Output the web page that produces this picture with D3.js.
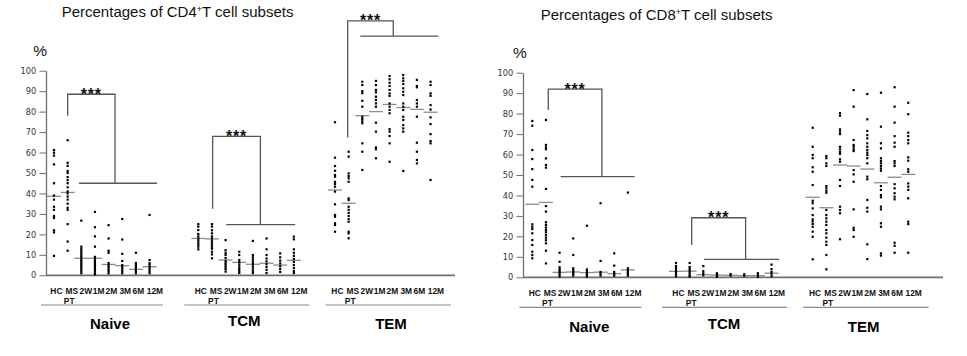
<!DOCTYPE html>
<html><head><meta charset="utf-8">
<script src="https://cdn.jsdelivr.net/npm/d3@7"></script>
<style>
html,body{margin:0;padding:0;background:#fff;}
svg{display:block;}
</style></head>
<body>
<svg id="chart" width="967" height="356"></svg>
<script>
// ---------- DATA ----------
const groups = ["Naive", "TCM", "TEM"];
const timepoints = ["HC", "MS", "2W", "1M", "2M", "3M", "6M", "12M"];
const timepointLabels = ["HC", "MS", "2W", "1M", "2M", "3M", "6M", "12M"];
const subLabel = "PT";
const yTicks = [0, 10, 20, 30, 40, 50, 60, 70, 80, 90, 100];

// CD4+ panel
const cd4Naive = [
  [61.2, 59.9, 58.5, 54.2, 45, 39, 37, 33.5, 32, 29, 28, 22, 21, 9.5],
  [66, 55, 53.5, 51, 50, 48, 46.5, 45, 43, 41, 40, 38.5, 37, 35, 33, 32, 25, 16.5, 12],
  [26.7, 14, 13, 12, 11, 10, 9, 8, 7, 6, 5, 4, 3, 2, 1],
  [31, 23.5, 19, 14, 9, 8, 7, 6, 5, 4, 3, 2, 1, 0.5],
  [24.5, 18, 12, 11, 6, 5, 4, 3, 2, 1],
  [27.5, 17.5, 10.5, 7, 5, 4, 3, 2, 1],
  [11, 6, 5, 4, 3, 2, 1],
  [29.5, 7.5, 6, 5, 4, 3, 2, 1]
];
const cd4NaiveMed = [38.6, 40.5, 8.3, 8.3, 5.3, 4.7, 2.9, 4.2];

const cd4TCM = [
  [25, 23.8, 22.1, 20.2, 19, 18, 17, 16, 15, 14, 12.7],
  [25, 23.8, 22, 20.5, 19, 18, 17, 16, 15, 14, 13, 11.5, 10.2, 8.3],
  [17.2, 12.3, 11, 10, 8.5, 7, 6, 5, 4, 3, 1.8],
  [11.5, 9.9, 7.5, 6.4, 5.3, 4.2, 3.1, 2.1, 1.1],
  [16.8, 9.9, 8.8, 7.7, 6.6, 5.5, 4.4, 3.3, 2.2, 1.1],
  [18, 12.7, 9.9, 8.2, 6.8, 5.4, 4, 2.6, 1.1],
  [10.7, 8.8, 7.2, 5.8, 4.4, 3, 1.6],
  [18.9, 17.6, 12.7, 11, 9.5, 8, 6.5, 5, 3.5, 2, 1.1]
];
const cd4TCMMed = [18, 17.8, 7.5, 6.3, 5.4, 5.9, 5, 7.3];

const cd4TEM = [
  [74.8, 57.5, 53.4, 51.1, 49, 48.2, 45.7, 44.6, 43.3, 40.9, 34.7, 29.5, 28.6, 25.4, 24.6, 21.3],
  [60.4, 58, 49.8, 48.5, 47.4, 45.7, 37.6, 36.8, 33.5, 32, 30.5, 29, 27.5, 26.2, 21.3, 20.5, 18.1],
  [94.6, 93, 90, 89, 85.3, 82.4, 77.5, 76.4, 75.3, 74.3, 64.5, 60.4, 51.5],
  [95, 93, 90.6, 89.4, 87.3, 85.7, 84, 82.4, 74.6, 70.2, 62.5, 61.6, 57.2],
  [97.4, 95.8, 94.1, 92.5, 90.6, 88.9, 87.7, 84, 82.4, 80.8, 79.2, 71.4, 70.2, 68.1, 64.5, 55.5],
  [97.9, 96.3, 95, 93.5, 91.4, 89.7, 88.1, 84, 82.4, 80.8, 77.5, 75.9, 73.4, 71.8, 70.2, 51],
  [95.5, 92.5, 91.9, 85.7, 84, 82.4, 77.5, 64.8, 60.4, 56.4, 54.7],
  [94.6, 93, 88.9, 87.7, 83.2, 81, 77.2, 73.9, 69, 65.6, 64.5, 46.6]
];
const cd4TEMMed = [41.7, 35.2, 78, 80, 83.5, 82, 81.1, 79.7];

const cd4Brackets = [
  { group: "Naive", from: 1.0, fromVal: 78, top: 88.5, to: 4.47, toVal: 45, lineFrom: 1.83, lineTo: 7.55 },
  { group: "TCM", from: 1.05, fromVal: 32.5, top: 67.9, to: 4.55, toVal: 24.8, lineFrom: 2.05, lineTo: 7.1 },
  { group: "TEM", from: 0.93, fromVal: 67.4, top: 124.4, to: 4.27, toVal: 116.9, lineFrom: 1.85, lineTo: 7.57 }
];

// CD8+ panel
const cd8Naive = [
  [76.4, 74.1, 62.2, 57.8, 52.9, 47.6, 44.3, 25.9, 24.7, 23.6, 21.5, 18.2, 15.8, 12.5, 10.9, 9.3],
  [76.9, 64.7, 63.5, 62.6, 58.1, 54.9, 53.6, 43.2, 34.8, 32.1, 26.9, 25.6, 24.3, 23.1, 22, 20.7, 19.4, 18.1, 16.6, 13, 6.8],
  [12, 7.6, 4.9, 4, 3.1, 2.2, 1.3, 0.4],
  [19, 10.9, 4.4, 3.5, 2.6, 1.7, 0.8],
  [25.2, 3.8, 2.9, 2, 1.1, 0.3],
  [36.2, 8, 2.6, 1.7, 0.8],
  [11.7, 5.7, 2.6, 1.7, 0.8],
  [41.4, 4.4, 3.5, 2.6, 1.7, 0.8]
];
const cd8NaiveMed = [35.7, 36.6, 2.4, 2.6, 2.3, 2.5, 1.8, 3.6];

const cd8TCM = [
  [7, 5.5, 4.5, 3.5, 2.5, 1.5, 0.5],
  [7, 5, 4, 3, 2, 1, 0.4],
  [5.5, 3, 2, 1],
  [2, 1.1, 0.3],
  [1.6, 0.8],
  [1.5, 0.7],
  [2, 1.1, 0.3],
  [6.2, 4, 2.6, 1.6, 0.5]
];
const cd8TCMMed = [2.9, 3, 1.3, 1.1, 1, 0.8, 0.8, 2];

const cd8TEM = [
  [73.1, 63.8, 59.8, 58.2, 53.8, 51.6, 45.1, 37.4, 36.2, 33.7, 30.4, 28.3, 27.3, 26.1, 24.7, 22.3, 19.8, 8.8],
  [59.3, 58.2, 55.7, 54.4, 44.6, 43.5, 42.3, 41.3, 32.9, 30.4, 28.8, 27.2, 25.6, 23.1, 21.5, 19.4, 17.4, 15.8, 10.9, 3.9],
  [80.2, 79, 72.3, 71.2, 70, 63.8, 62.5, 61.3, 60.3, 57.7, 56.5, 47.6, 44.6, 34.5, 32.9, 31.3, 18.6],
  [91.5, 83.4, 67.1, 64.7, 63.8, 62.6, 61.7, 52.4, 50.3, 46.7, 33.2, 24.2, 23.1, 19.8],
  [89.6, 77.2, 71.5, 69.5, 67.9, 65.5, 63.8, 62.2, 60.9, 59.8, 58.2, 55.7, 49.2, 47.9, 37.8, 34, 32.1, 16.1, 8.9],
  [90.2, 73.6, 65.5, 63, 58.2, 56.9, 55.7, 54.4, 53.2, 52.1, 44.6, 42.7, 40.2, 39.1, 34.5, 33.2, 26.4, 24.7, 11.7, 10.6],
  [92.9, 83.4, 75.6, 69, 65.8, 63.8, 56.8, 55.7, 54.4, 45.5, 43.5, 41.1, 39.4, 38.1, 16.9, 15.4, 12],
  [85.3, 79.7, 70.7, 69, 67.1, 65.5, 58.6, 57, 52.8, 51.6, 45.9, 44.3, 42.7, 38.6, 27.2, 26, 12]
];
const cd8TEMMed = [39.1, 34, 54.9, 54.4, 52.9, 46.2, 48.9, 50.3];

const cd8Brackets = [
  { group: "Naive", from: 1.17, fromVal: 81.8, top: 92, to: 5.1, toVal: 49.2, lineFrom: 2.07, lineTo: 7.5 },
  { group: "TCM", from: 1.15, fromVal: 15.8, top: 29.1, to: 5.1, toVal: 8.8, lineFrom: 2.05, lineTo: 7.55 }
];

// ---------- LAYOUT ----------
const panels = [
  {
    cell: "CD4", titleX: 61.7, titleBase: 17.3,
    axisX: 46, y0: 275.3, y100: 70.7, xEnd: 455,
    groupOffsets: [8, 152.3, 289], groupLabelOff: [56, 46, 56], groupBase: [329, 326, 329],
    pctX: 33.3, pctBase: 56, catBase: 293.5, ptBase: 303.5, ulY: 305,
    data: [cd4Naive, cd4TCM, cd4TEM], medians: [cd4NaiveMed, cd4TCMMed, cd4TEMMed],
    brackets: cd4Brackets
  },
  {
    cell: "CD8", titleX: 540.7, titleBase: 20,
    axisX: 523, y0: 277.3, y100: 72.7, xEnd: 943,
    groupOffsets: [9.3, 153, 289.7], groupLabelOff: [57, 48, 51], groupBase: [331.7, 329.3, 331.7],
    pctX: 513, pctBase: 58.3, catBase: 295.5, ptBase: 306, ulY: 307.3,
    data: [cd8Naive, cd8TCM, cd8TEM], medians: [cd8NaiveMed, cd8TCMMed, cd8TEMMed],
    brackets: cd8Brackets
  }
];
const step = 13.65;
const underlineOff = [[-13, 109], [-14, 111], [-9.5, 116]];
const labelShift = [2.4, 4.1, 4.6, 3.6, 2.8, 3.0, 2.5, 5.4];

const svg = d3.select("#chart");
const AX = "#6e6e6e";

panels.forEach(p => {
  const g = svg.append("g");
  const y = d3.scaleLinear().domain([0, 100]).range([p.y0, p.y100]);
  const xGroup = d3.scaleOrdinal().domain(groups).range(p.groupOffsets.map(o => p.axisX + o));
  const xTp = d3.scalePoint().domain(timepoints).range([0, step * 7]);
  const xIdx = d3.scaleLinear().domain([0, 7]).range([0, step * 7]);

  // title
  const t = g.append("text")
    .attr("x", p.titleX).attr("y", p.titleBase)
    .attr("font-family", "Liberation Sans, Arial, sans-serif")
    .attr("font-size", 15).attr("fill", "#111");
  t.append("tspan").text("Percentages of " + p.cell);
  t.append("tspan").attr("font-size", 9).attr("dy", -5.5).text("+");
  t.append("tspan").attr("dy", 5.5).text("T cell subsets");

  // %
  g.append("text").attr("x", p.pctX).attr("y", p.pctBase)
    .attr("font-family", "Liberation Sans, Arial, sans-serif")
    .attr("font-size", 15.5).attr("fill", "#111").text("%");

  // y axis
  const yAxis = d3.axisLeft(y).tickValues(yTicks).tickSize(6.5).tickSizeOuter(0).tickPadding(3.3);
  const ya = g.append("g").attr("transform", `translate(${p.axisX},0)`).call(yAxis);
  ya.select(".domain").attr("stroke", AX).attr("stroke-width", 1.3);
  ya.selectAll(".tick line").attr("stroke", AX).attr("stroke-width", 1);
  ya.selectAll(".tick text").attr("font-family", "DejaVu Sans, Verdana, sans-serif")
    .attr("font-size", 8.2).attr("fill", "#333");

  // x axis line
  g.append("line").attr("x1", p.axisX).attr("x2", p.xEnd)
    .attr("y1", y(0)).attr("y2", y(0))
    .attr("stroke", AX).attr("stroke-width", 1.8);

  groups.forEach((gr, gi) => {
    const gx = xGroup(gr);
    const vals = p.data[gi];
    const meds = p.medians[gi];

    // medians
    g.selectAll(null).data(timepoints).join("line")
      .attr("x1", (tp) => gx + xTp(tp) - 7).attr("x2", (tp) => gx + xTp(tp) + 7)
      .attr("y1", (tp, i) => y(meds[i])).attr("y2", (tp, i) => y(meds[i]))
      .attr("stroke", "#8c8c8c").attr("stroke-width", 1.3);

    // dots
    const pts = [];
    timepoints.forEach((tp, i) => vals[i].forEach(v => pts.push({ tp, v })));
    g.selectAll(null).data(pts).join("rect")
      .attr("x", d => gx + xTp(d.tp) - 1.1).attr("y", d => y(d.v) - 1.1)
      .attr("width", 2.2).attr("height", 2.2).attr("fill", "#000");

    // category labels
    g.selectAll(null).data(timepointLabels).join("text")
      .attr("x", (d, i) => gx + xTp(timepoints[i]) + labelShift[i])
      .attr("y", p.catBase)
      .attr("text-anchor", "middle")
      .attr("font-family", "Liberation Sans, Arial, sans-serif")
      .attr("font-weight", "bold").attr("font-size", 8.4).attr("fill", "#111")
      .text(d => d);
    g.append("text").attr("x", gx + xTp("MS") + 1.5).attr("y", p.ptBase)
      .attr("text-anchor", "middle")
      .attr("font-family", "Liberation Sans, Arial, sans-serif")
      .attr("font-weight", "bold").attr("font-size", 8.4).attr("fill", "#111")
      .text(subLabel);

    // underline
    g.append("line").attr("x1", gx + underlineOff[gi][0]).attr("x2", gx + underlineOff[gi][1])
      .attr("y1", p.ulY).attr("y2", p.ulY).attr("stroke", "#8a8a8a").attr("stroke-width", 1.2);

    // group label
    g.append("text").attr("x", gx + p.groupLabelOff[gi]).attr("y", p.groupBase[gi])
      .attr("text-anchor", "middle")
      .attr("font-family", "Liberation Sans, Arial, sans-serif")
      .attr("font-weight", "bold").attr("font-size", 15).attr("fill", "#000")
      .text(gr);
  });

  // significance brackets
  p.brackets.forEach(b => {
    const gx = xGroup(b.group);
    const xa = gx + xIdx(b.from), xb = gx + xIdx(b.to);
    const path = d3.path();
    path.moveTo(xa, y(b.fromVal));
    path.lineTo(xa, y(b.top));
    path.lineTo(xb, y(b.top));
    path.lineTo(xb, y(b.toVal));
    g.append("path").attr("d", path.toString()).attr("fill", "none")
      .attr("stroke", "#555").attr("stroke-width", 1.3);
    g.append("line").attr("x1", gx + xIdx(b.lineFrom)).attr("x2", gx + xIdx(b.lineTo))
      .attr("y1", y(b.toVal)).attr("y2", y(b.toVal))
      .attr("stroke", "#555").attr("stroke-width", 1.3);
    g.append("text").attr("x", (xa + xb) / 2).attr("y", y(b.top) + 5.5)
      .attr("text-anchor", "middle")
      .attr("font-family", "Liberation Sans, Arial, sans-serif")
      .attr("font-weight", "bold").attr("font-size", 16).attr("letter-spacing", 0.8)
      .attr("fill", "#111").text("***");
  });
});
</script>
</body></html>
